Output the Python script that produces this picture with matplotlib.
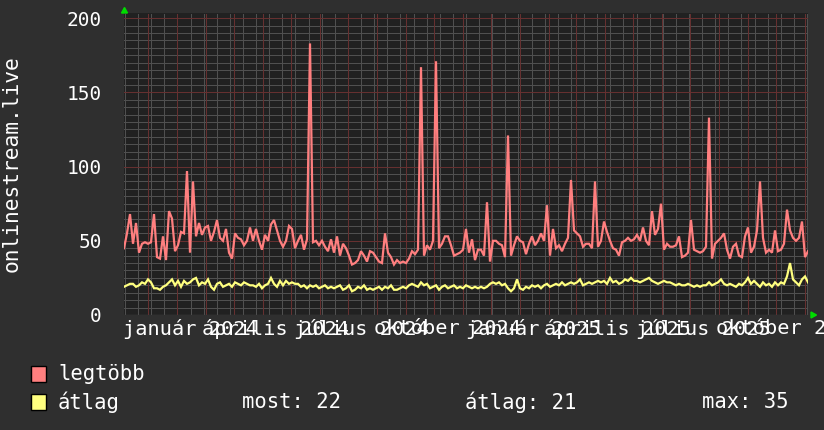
import numpy as np
import pandas as pd
import matplotlib
matplotlib.use("Agg")
import matplotlib.pyplot as plt
from matplotlib.patches import Rectangle, Polygon

# ---------------- data ----------------
start_date = "2023-11-05"
end_date = "2025-11-04"

legtobb = [
    45, 55, 68, 48, 62, 42, 48, 49, 48, 49,
    68, 39, 38, 53, 37, 70, 65, 43, 47, 56,
    55, 97, 42, 90, 53, 62, 54, 59, 60, 50,
    56, 64, 52, 50, 58, 42, 38, 55, 52, 51,
    47, 50, 59, 50, 58, 50, 44, 54, 50, 61,
    64, 57, 50, 46, 50, 60, 58, 45,
    50, 54, 44, 51, 183, 49, 50, 47, 50, 46,
    43, 51, 42, 53, 40, 48, 45, 40, 34, 35,
    37, 43, 40, 36, 43, 42, 39, 36, 35, 55,
    42, 39, 34, 37, 35, 36, 35, 38, 43, 41,
    44, 167, 40, 47, 44, 50, 171, 45, 48, 53,
    53, 47, 40, 41, 42, 44,
    58, 42, 51, 37, 44, 44, 40, 76, 36, 50,
    50, 48, 47, 39, 121, 40, 47, 53, 50, 49,
    41, 48, 53, 47, 50, 55, 50, 74, 40, 58,
    45, 47, 43, 48, 52, 91, 57, 55, 53, 46,
    48, 48, 45, 90, 46, 50, 63, 56, 50, 45,
    44, 40, 49, 50, 52, 50, 51,
    54, 50, 59, 50, 47, 70, 54, 58, 75, 44,
    48, 46, 46, 47, 53, 39, 40, 42, 64, 44,
    43, 42, 43, 46, 133, 38, 48, 50, 52, 55,
    44, 38, 46, 48, 40, 39, 53, 59, 42, 46,
    57, 90, 52, 42, 44, 42, 57, 43, 44, 48,
    71, 57, 52, 50, 52, 63, 39, 43,
]

atlag = [
    19, 20, 21, 21, 19, 20, 22, 21, 24, 22,
    18, 18, 17, 19, 20, 22, 24, 20, 23, 19,
    23, 21, 22, 24, 25, 20, 22, 21, 24, 19,
    17, 21, 22, 19, 20, 21, 19, 22, 21, 20,
    22, 21, 20, 20, 19, 21, 18, 20, 21, 25,
    21, 19, 23, 20, 23, 21, 22, 21,
    21, 19, 20, 18, 20, 19, 20, 18, 19, 20,
    18, 19, 18, 19, 20, 17, 18, 20, 16, 17,
    19, 18, 20, 17, 18, 17, 18, 19, 17, 19,
    18, 20, 17, 17, 18, 19, 18, 20, 21, 20,
    19, 22, 20, 21, 18, 19, 20, 17, 19, 20,
    18, 19, 20, 18, 19, 18,
    20, 19, 18, 19, 18, 19, 18, 19, 21, 22,
    21, 22, 20, 21, 18, 16, 18, 24, 18, 17,
    19, 18, 20, 19, 20, 18, 20, 21, 19, 20,
    21, 20, 22, 20, 21, 22, 21, 22, 24, 20,
    21, 22, 21, 22, 23, 22, 23, 21, 25, 22,
    23, 21, 22, 24, 23, 25, 23,
    23, 22, 23, 24, 25, 23, 22, 21, 22, 23,
    22, 22, 21, 20, 21, 20, 20, 21, 20, 19,
    20, 19, 20, 20, 22, 20, 21, 22, 24, 21,
    20, 21, 20, 19, 21, 20, 22, 25, 21, 23,
    21, 19, 22, 20, 21, 19, 22, 20, 22, 21,
    26, 35, 24, 22, 20, 24, 26, 22,
]

y_ticks = [0, 50, 100, 150, 200]
x_label_dates = ["2024-01-15", "2024-04-15", "2024-07-15", "2024-10-15",
                 "2025-01-15", "2025-04-15", "2025-07-15", "2025-10-15"]
x_labels = ["január 2024", "április 2024", "július 2024", "október 2024",
            "január 2025", "április 2025", "július 2025", "október 2025"]
series_names = ["legtöbb", "átlag"]
stats = {"most": 22, "átlag": 21, "max": 35}

# ---------------- figure ----------------
W, H = 824, 430
fig = plt.figure(figsize=(W / 100, H / 100), dpi=100, facecolor="#2f2f2f")
L, R, T, B = 124, 808, 13, 315
ax = fig.add_axes([L / W, 1 - B / H, (R - L) / W, (B - T) / H], facecolor="#212121")

dates = pd.date_range(start_date, end_date, periods=len(legtobb))
x0, x1 = pd.Timestamp(start_date), pd.Timestamp(end_date)
ax.set_xlim(x0, x1)
ax.set_ylim(0, 203.5)

mono = "DejaVu Sans Mono"
dot = (0, (1, 1))
minor_c = "#505050"
major_c = "#663030"

# minor grid
for v in np.arange(5, 201, 5):
    if v % 50:
        ax.axhline(v, color=minor_c, lw=0.72, ls=dot, zorder=1, antialiased=False)
for d in pd.date_range("2023-11-06", end_date, freq="14D"):
    ax.axvline(d, color=minor_c, lw=0.72, ls=dot, zorder=1, antialiased=False)
# major grid
for v in y_ticks[1:]:
    ax.axhline(v, color=major_c, lw=0.72, ls=dot, zorder=2, antialiased=False)
for d in pd.date_range("2023-12-01", end_date, freq="MS"):
    ax.axvline(d, color=major_c, lw=0.72, ls=dot, zorder=2, antialiased=False)
ax.axhline(0, color="#444444", lw=1.0, zorder=2)

ax.plot(dates, legtobb, color="#ff7f7f", lw=1.6, zorder=4, solid_joinstyle="miter")
ax.plot(dates, atlag, color="#ffff7f", lw=1.6, zorder=4, solid_joinstyle="miter")

for s in ax.spines.values():
    s.set_visible(False)

ax.set_yticks(y_ticks)
ax.set_yticklabels([str(v) for v in y_ticks], fontfamily=mono, fontsize=14, color="white")
ax.set_xticks(pd.to_datetime(x_label_dates))
ax.set_xticklabels(x_labels, fontfamily=mono, fontsize=14.6, color="white")
ax.tick_params(axis="both", length=0)
ax.tick_params(axis="y", pad=16)
ax.tick_params(axis="x", pad=3)
for lbl in ax.get_xticklabels():
    lbl.set_clip_on(False)

fig.text(12 / W, 1 - 164 / H, "onlinestream.live", rotation=90, ha="center", va="center",
         fontfamily=mono, fontsize=15.3, color="white")

def fx(x):
    return x / W

def fy(y):
    return 1 - y / H

# arrows
fig.add_artist(Polygon([(fx(121.5), fy(13)), (fx(127.5), fy(13)), (fx(124.5), fy(7.5))],
                       closed=True, transform=fig.transFigure, color="#00dd00"))
fig.add_artist(Polygon([(fx(811), fy(312)), (fx(811), fy(318)), (fx(816.5), fy(315))],
                       closed=True, transform=fig.transFigure, color="#00dd00"))

# legend
for (ytop, col, name) in [(366, "#ff7f7f", series_names[0]), (394, "#ffff7f", series_names[1])]:
    fig.add_artist(Rectangle((fx(31), fy(ytop + 16)), 15 / W, 16 / H, transform=fig.transFigure,
                             facecolor=col, edgecolor="black", lw=1))
    fig.text(fx(58), fy(ytop + 8), name, ha="left", va="center", fontfamily=mono,
             fontsize=14.8, color="white")

fig.text(fx(242), fy(402), f"most: {stats['most']}", ha="left", va="center",
         fontfamily=mono, fontsize=14.8, color="white")
fig.text(fx(465), fy(402), f"átlag: {stats['átlag']}", ha="left", va="center",
         fontfamily=mono, fontsize=14.8, color="white")
fig.text(fx(702), fy(402), f"max: {stats['max']}", ha="left", va="center",
         fontfamily=mono, fontsize=14.8, color="white")

fig.savefig("out.png", dpi=100, facecolor=fig.get_facecolor())
